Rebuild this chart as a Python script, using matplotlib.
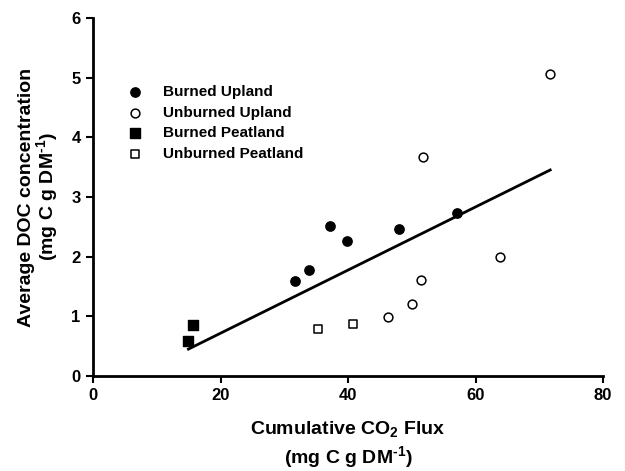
import matplotlib
matplotlib.use('Agg')
import matplotlib.pyplot as plt
import numpy as np

plt.rcParams['font.family'] = ['Liberation Sans', 'DejaVu Sans']
plt.rcParams['font.weight'] = 'bold'
plt.rcParams['mathtext.fontset'] = 'custom'
plt.rcParams['mathtext.rm'] = 'Liberation Sans:bold'
plt.rcParams['mathtext.default'] = 'rm'

# Burned upland
bu_x = [31.7, 33.9, 37.1, 39.9, 48.0, 57.0]
bu_y = [1.59, 1.78, 2.51, 2.27, 2.47, 2.74]
# Unburned upland
uu_x = [71.6, 51.7, 63.9, 51.5, 50.0, 46.3]
uu_y = [5.06, 3.67, 1.99, 1.61, 1.21, 0.99]
# Burned peatland
bp_x = [14.9, 15.7]
bp_y = [0.59, 0.85]
# Unburned peatland
up_x = [35.2, 40.8]
up_y = [0.78, 0.87]

# regression line
fit_slope = 0.0529
fit_intercept = -0.34
fit_range = [14.95, 71.7]

fig = plt.figure(figsize=(6.25, 4.71), dpi=100)
ax = fig.add_axes([0.149, 0.2017, 0.816, 0.7601])

ax.scatter(bu_x, bu_y, marker='o', s=45, facecolor='black', edgecolor='black', label='Burned Upland', zorder=3)
ax.scatter(uu_x, uu_y, marker='o', s=40, facecolor='white', edgecolor='black', linewidths=1.1, label='Unburned Upland', zorder=3)
ax.scatter(bp_x, bp_y, marker='s', s=45, facecolor='black', edgecolor='black', label='Burned Peatland', zorder=3)
ax.scatter(up_x, up_y, marker='s', s=40, facecolor='white', edgecolor='black', linewidths=1.1, label='Unburned Peatland', zorder=3)

lx = np.array(fit_range)
ax.plot(lx, fit_slope * lx + fit_intercept, color='black', lw=2.0, zorder=2)

ax.set_xlim(0, 80)
ax.set_ylim(0, 6)
ax.set_xticks([0, 20, 40, 60, 80])
ax.set_yticks([0, 1, 2, 3, 4, 5, 6])

for side in ['top', 'right']:
    ax.spines[side].set_visible(False)
for side in ['left', 'bottom']:
    ax.spines[side].set_linewidth(2.0)
ax.tick_params(direction='out', length=5, width=1.5, labelsize=12, pad=4)
for lbl in ax.get_xticklabels() + ax.get_yticklabels():
    lbl.set_fontweight('bold')

ax.set_xlabel('Cumulative CO$_2$ Flux\n(mg C g DM$^{\\text{-1}}$)', fontsize=14, fontweight='bold', linespacing=1.3, labelpad=11)
ax.set_ylabel('Average DOC concentration\n(mg C g DM$^{\\text{-1}}$)', fontsize=14, fontweight='bold', linespacing=0.95, labelpad=8)

leg = ax.legend(loc='upper left', bbox_to_anchor=(0.053, 0.812), frameon=False, fontsize=11,
                handletextpad=0.8, labelspacing=0.43, borderaxespad=0, borderpad=0)
for t in leg.get_texts():
    t.set_fontweight('bold')

fig.savefig('out.png', dpi=100)
